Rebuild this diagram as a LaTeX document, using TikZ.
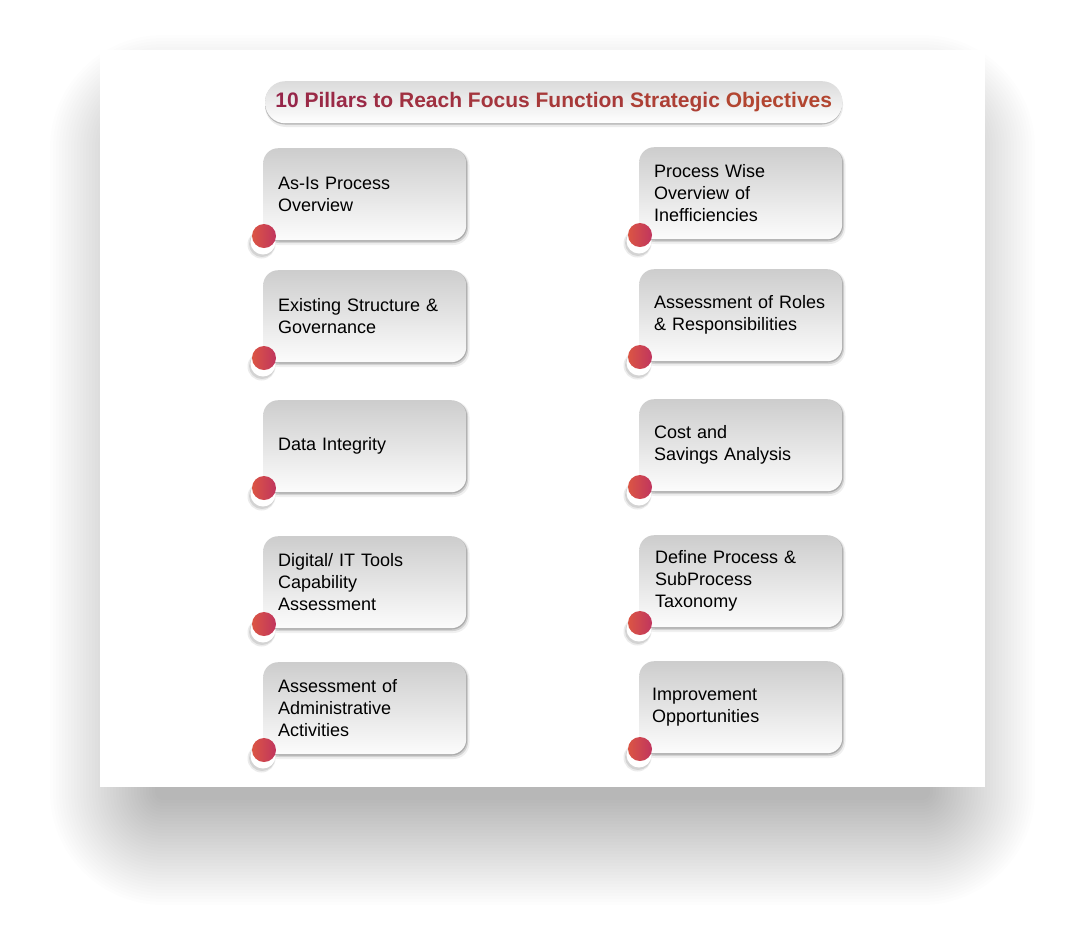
\documentclass[tikz,border=0pt]{standalone}
\usepackage{fontspec}
\setmainfont{Liberation Sans}
\definecolor{dotL}{HTML}{DB5544}
\definecolor{dotR}{HTML}{C0355E}
\definecolor{boxTop}{HTML}{CDCDCD}
\definecolor{boxBot}{HTML}{FCFCFC}
\definecolor{titA}{HTML}{962549}
\definecolor{titC}{HTML}{B4472E}
\tikzset{
  pillarbox/.style={draw=none, rounded corners=15, top color=boxTop, bottom color=boxBot,
    minimum width=203, minimum height=92, inner sep=0pt, text width=173, align=left,
    font=\fontsize{18}{22}\selectfont, text=black},
  pillardot/.style={circle, minimum size=24, inner sep=0pt, left color=dotL, right color=dotR},
  titlebox/.style={rounded corners=20, top color=black!14, bottom color=white,
    minimum width=577, minimum height=42, inner sep=0pt, font=\fontsize{21}{24}\bfseries\selectfont}
}
\newcommand\pillar[4]{%
  \fill[black,opacity=0.06,rounded corners=16] (#2+0.5,#3+1) rectangle ++(206,96);
  \fill[black,opacity=0.12,rounded corners=15] (#2+1,#3+1.5) rectangle ++(204,93.5);
  \fill[black,opacity=0.18,rounded corners=15] (#2+1,#3+1) rectangle ++(203,92.5);
  \node[pillarbox, anchor=north west] (#1) at (#2,#3) {#4};
  \fill[black,opacity=0.08] (#2-1.5,#3+92+4.5) circle (14);
  \fill[black,opacity=0.10] (#2-1,#3+92+4) circle (13);
  \fill[white] (#2,#3+92+2) circle (12.5);
  \node[pillardot] (#1dot) at (#2+1,#3+88) {};
}
\begin{document}
\begin{tikzpicture}[x=1pt,y=-1pt]
\useasboundingbox (0,0) rectangle (1082,938);
\fill[white] (0,0) rectangle (1082,938);
% card shadow
\foreach \r in {0,3,...,105}{
  \fill[black,opacity=0.006,rounded corners=\r+8] (155-\r,140-\r) rectangle (930+\r,800+\r);
}
\fill[white] (100,50) rectangle (985,787);
% title
\fill[black,opacity=0.08,rounded corners=21] (265,83) rectangle (843,127);
\fill[black,opacity=0.22,rounded corners=20] (265,82) rectangle (842,124.5);
\node[titlebox, anchor=north west] (title) at (265,81)
  {\textcolor{titA}{10} \textcolor{titA!88!titC}{Pillars} \textcolor{titA!76!titC}{to}
   \textcolor{titA!66!titC}{Reach} \textcolor{titA!54!titC}{Focus} \textcolor{titA!42!titC}{Function}
   \textcolor{titA!24!titC}{Strategic} \textcolor{titA!6!titC}{Objectives}};
% pillars
\pillar{p1}{263}{148}{As-Is Process\\Overview}
\pillar{p2}{263}{270}{Existing Structure \&\\Governance}
\pillar{p3}{263}{400}{Data Integrity}
\pillar{p4}{263}{536}{Digital/ IT Tools\\Capability\\Assessment}
\pillar{p5}{263}{662}{Assessment of\\Administrative\\Activities}
\pillar{q1}{639}{147}{Process Wise\\Overview of\\Inefficiencies}
\pillar{q2}{639}{269}{Assessment of Roles\\\& Responsibilities}
\pillar{q3}{639}{399}{Cost and\\Savings Analysis}
\pillar{q4}{639}{535}{\hspace*{1pt}Define Process \&\\\hspace*{1pt}SubProcess\\\hspace*{1pt}Taxonomy}
\pillar{q5}{639}{661}{\hspace*{-2pt}Improvement\\\hspace*{-2pt}Opportunities}
\end{tikzpicture}
\end{document}
